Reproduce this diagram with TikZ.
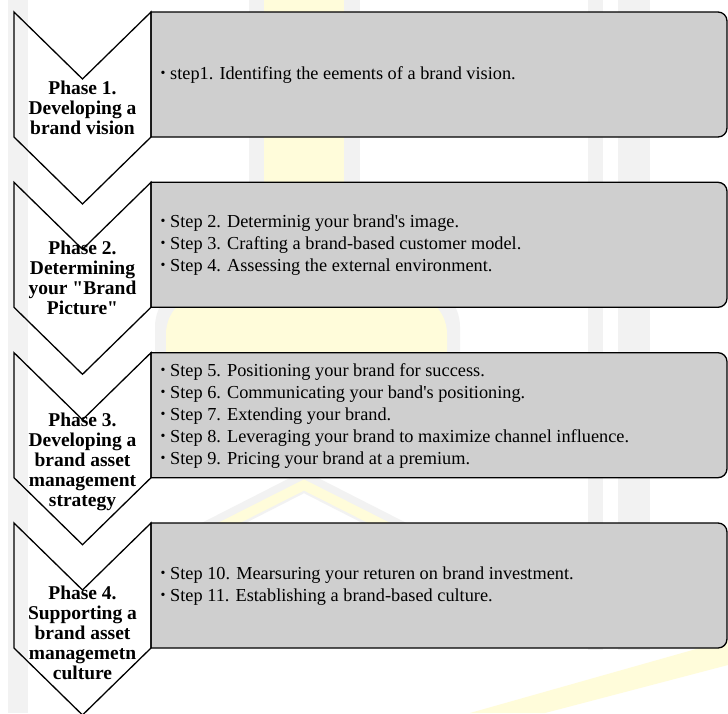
\documentclass[tikz,border=0pt]{standalone}
\usepackage{fontspec}
\setmainfont{Liberation Serif}[Ligatures=TeXOff]
\definecolor{boxfill}{RGB}{207,207,207}
\definecolor{wmyellow}{RGB}{255,252,218}
\definecolor{wmgray}{RGB}{242,242,242}
\tikzset{
  chevron/.style={draw=black, line width=1.3pt, line join=miter},
  stepbox/.style={draw=black, line width=1.3pt, fill=boxfill},
  phasetext/.style={inner sep=0pt, align=center,
    font=\bfseries\fontsize{19.5}{20}\selectfont},
  steptext/.style={inner sep=0pt, anchor=west, align=left,
    font=\fontsize{18.3}{22}\selectfont},
  wmy/.style={fill=wmyellow, draw=none},
  wmg/.style={fill=wmgray, draw=none},
}
% small raised list bullet followed by a fixed gap
\newcommand{\bul}{\hbox to 10.3pt{\hskip0.8pt\raisebox{2pt}{\fontsize{14}{14}\selectfont\textbullet}\hss}}
\begin{document}
\begin{tikzpicture}[x=1pt, y=-1pt]
\useasboundingbox (0,0) rectangle (728,713);
\fill[white] (0,0) rectangle (728,713);

% faint background emblem
\fill[wmg] (8,0) rectangle (28,713);
\fill[wmg] (588,0) rectangle (603,650);
\fill[wmg] (618,0) rectangle (650,650);
\fill[wmg] (249,0) rectangle (360,300);
\fill[wmg, rounded corners=45pt] (155,475) -- (155,282) -- (460,282) -- (460,475) -- cycle;
\fill[wmy] (264,0) rectangle (344,300);
\fill[wmy, rounded corners=40pt] (166,470) -- (166,294) -- (447,294) -- (447,470) -- cycle;
\draw[wmgray, line width=20pt] (200,535) -- (304,482) -- (408,535);
\draw[wmyellow, line width=10pt] (205,535) -- (304,485) -- (403,535);
\fill[wmy] (470,713) -- (728,640) -- (728,665) -- (545,713) -- cycle;

% chevrons and step boxes
\foreach \t/\n in {12/1, 182.3/2, 352.7/3, 523/4} {
  \draw[stepbox] (151,\t) -- (718,\t) to[out=0, in=90] (727,\t+9)
    -- (727,\t+116) to[out=-90, in=0] (718,\t+125) -- (151,\t+125) -- cycle;
  \draw[chevron] (14,\t) -- (82.5,\t+67) -- (151,\t) -- (151,\t+125)
    -- (82.5,\t+192) -- (14,\t+125) -- cycle;
}

% phase labels
\node[phasetext] (p1) at (82.5,108) {Phase 1.\\Developing a\\brand vision};
\node[phasetext] (p2) at (82.5,278) {Phase 2.\\Determining\\your "Brand\\Picture"};
\node[phasetext] (p3) at (82.5,461.5) {Phase 3.\\Developing a\\brand asset\\management\\strategy};
\node[phasetext] (p4) at (82.5,633) {Phase 4.\\Supporting a\\brand asset\\managemetn\\culture};

% step lists
\node[steptext] (s1) at (159.7,75) {\bul step1. Identifing the eements of a brand vision.};
\node[steptext] (s2) at (159.7,245) {\bul Step 2. Determinig your brand's image.\\
  \bul Step 3. Crafting a brand-based customer model.\\
  \bul Step 4. Assessing the external environment.};
\node[steptext] (s3) at (159.7,415.8) {\bul Step 5. Positioning your brand for success.\\
  \bul Step 6. Communicating your band's positioning.\\
  \bul Step 7. Extending your brand.\\
  \bul Step 8. Leveraging your brand to maximize channel influence.\\
  \bul Step 9. Pricing your brand at a premium.};
\node[steptext] (s4) at (159.7,586) {\bul Step 10. Mearsuring your returen on brand investment.\\
  \bul Step 11. Establishing a brand-based culture.};
\end{tikzpicture}
\end{document}
